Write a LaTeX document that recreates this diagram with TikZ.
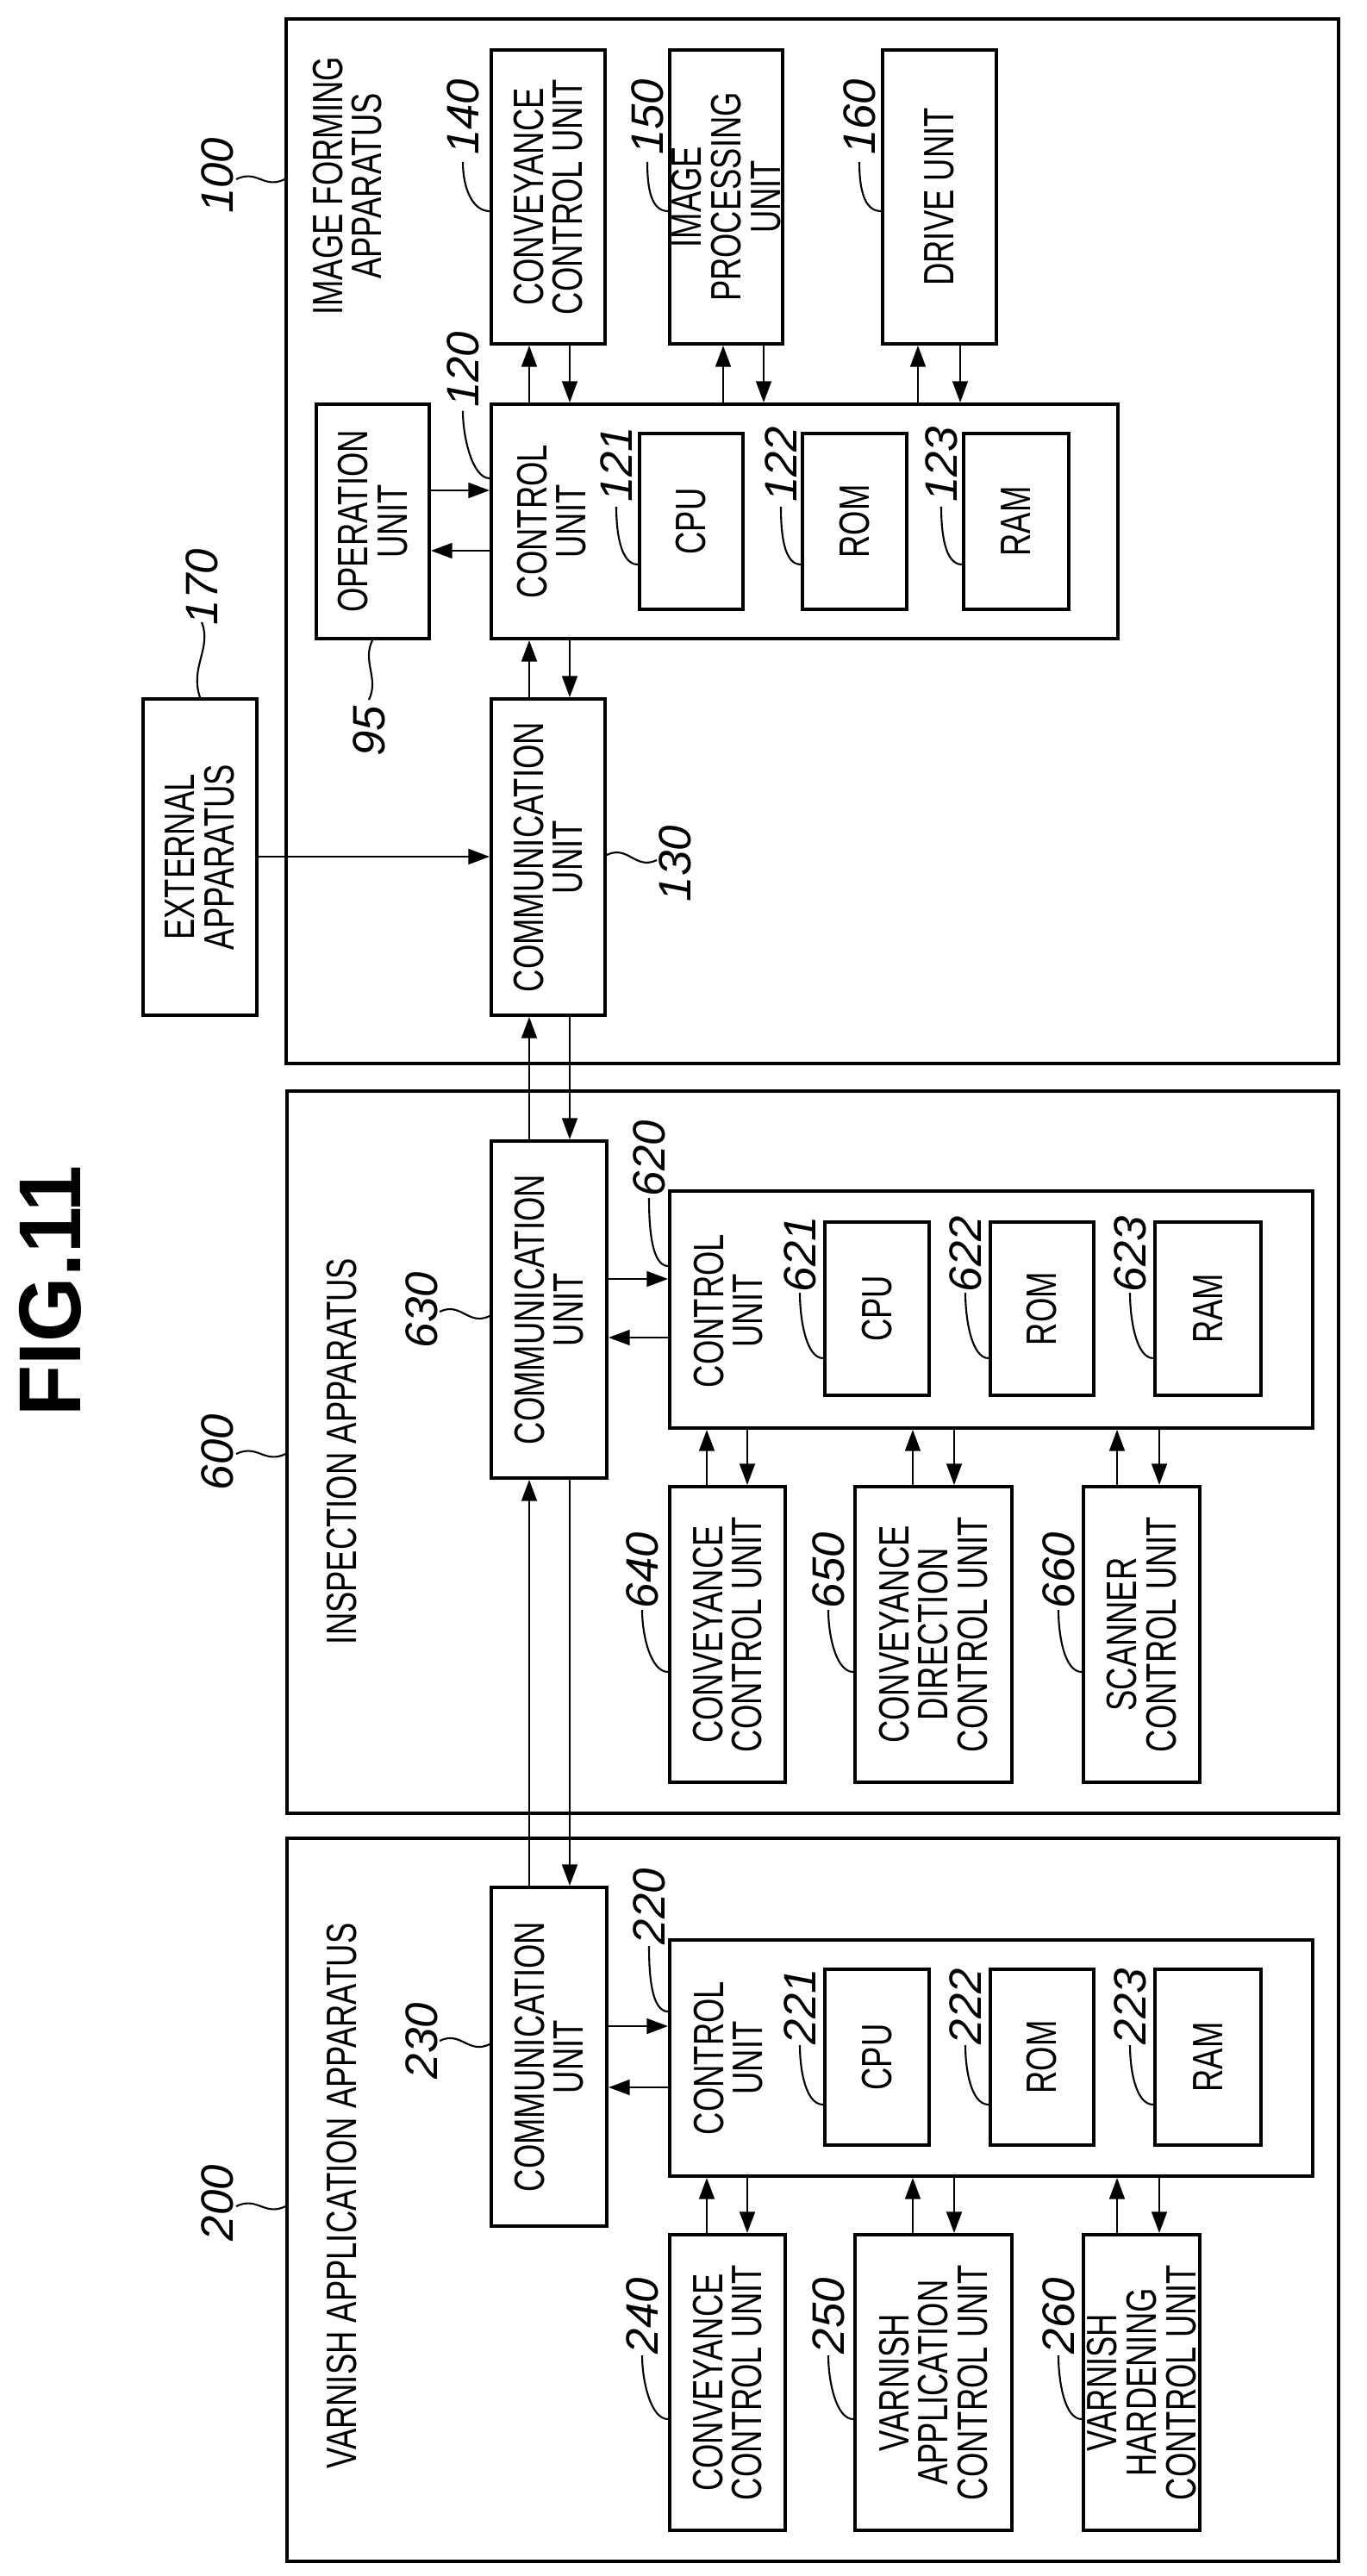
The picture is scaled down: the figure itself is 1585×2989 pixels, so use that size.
\documentclass[tikz,border=0pt]{standalone}
\usepackage{fontspec}
\setmainfont{Liberation Sans}[FakeStretch=0.74]
\newfontfamily\numfont{Liberation Sans}
\newfontfamily\figfont{Liberation Sans}[FakeStretch=0.95]
\usetikzlibrary{arrows.meta}
\begin{document}
\begin{tikzpicture}[x=0.01cm,y=-0.01cm,
  box/.style={draw,line width=1.1pt,inner sep=0pt,rectangle},
  outer/.style={draw,line width=0.9pt,inner sep=0pt,rectangle},
  txt/.style={rotate=90,align=center,inner sep=0pt,font=\fontsize{14}{13}\selectfont},
  lbl/.style={rotate=90,inner sep=0pt,font=\numfont\itshape\fontsize{15}{15}\selectfont},
  arr/.style={line width=0.8pt,-{Triangle[length=7pt,width=5pt]}},
  lead/.style={line width=0.6pt}]
\useasboundingbox (0,0) rectangle (1585,2989);
\newcommand\bx[7][box]{\node[#1,minimum width={(#5-#3)*0.01cm},minimum height={(#6-#4)*0.01cm}] (#2) at ({(#3+#5)/2},{(#4+#6)/2}) {};
  \node[txt] at (#2.center) {#7};}
\newcommand\ld[2]{\draw[lead] #1 .. controls +(0,30) and +(-20,0) .. #2;}
\newcommand\tl[2]{\draw[lead] #1 .. controls +(25,-12) and +(-25,12) .. #2;}

% title
\node[rotate=90,inner sep=0pt,font=\figfont\bfseries\fontsize{29}{29}\selectfont] (fig) at (58,1498) {FIG.11};

% ===== 100 =====
\bx[outer]{o100}{332}{22}{1553}{1234}{}
\node[txt] (t100) at (403,216) {IMAGE FORMING\\APPARATUS};
\node[lbl] (l100) at (252,204) {100};
\coordinate (e100) at (o100.west |- 0,208);
\tl{(274,208)}{(e100)}
\bx{c140}{570}{58}{702}{399}{CONVEYANCE\\CONTROL UNIT}
\bx{c150}{777}{58}{908}{399}{IMAGE\\PROCESSING\\UNIT}
\bx{c160}{1024}{58}{1156}{399}{DRIVE UNIT}
\bx{c95}{367}{469}{498}{741}{OPERATION\\UNIT}
\bx{c120}{570}{469}{1297}{741}{}
\node[txt] (t120) at (640,605) {CONTROL\\UNIT};
\bx{c121}{742}{503}{862}{707}{CPU}
\bx{c122}{931}{503}{1052}{707}{ROM}
\bx{c123}{1118}{503}{1240}{707}{RAM}
\bx{c130}{570}{811}{702}{1178}{COMMUNICATION\\UNIT}
\bx{c170}{166}{811}{298}{1178}{EXTERNAL\\APPARATUS}

\node[lbl] (l140) at (537,136) {140};
\node[lbl] (l150) at (751,136) {150};
\node[lbl] (l160) at (997,136) {160};
\ld{(537,188)}{(c140.west |- 0,245)}
\ld{(751,188)}{(c150.west |- 0,245)}
\ld{(997,188)}{(c160.west |- 0,245)}
\node[lbl] (l120) at (537,429) {120};
\ld{(537,477)}{(c120.west |- 0,555)}
\node[lbl] (l121) at (715,539) {121};
\node[lbl] (l122) at (906,539) {122};
\node[lbl] (l123) at (1092,539) {123};
\ld{(715,588)}{(c121.west |- 0,655)}
\ld{(906,588)}{(c122.west |- 0,655)}
\ld{(1092,588)}{(c123.west |- 0,655)}
\node[lbl] (l95) at (428,848) {95};
\draw[lead] (c95.south -| 432,0) .. controls +(-12,25) and +(12,-25) .. (428,812);
\node[lbl] (l130) at (783,1002) {130};
\tl{(c130.east |- 0,992)}{(762,998)}
\node[lbl] (l170) at (234,681) {170};
\draw[lead] (c170.north -| 232,0) .. controls +(-12,-35) and +(12,30) .. (234,722);

\draw[arr] (c95.east |- 0,569) -- (c120.west |- 0,569);
\draw[arr] (c120.west |- 0,639) -- (c95.east |- 0,639);
\draw[arr] (c120.north -| 614,0) -- (c140.south -| 614,0);
\draw[arr] (c140.south -| 661,0) -- (c120.north -| 661,0);
\draw[arr] (c120.north -| 839,0) -- (c150.south -| 839,0);
\draw[arr] (c150.south -| 886,0) -- (c120.north -| 886,0);
\draw[arr] (c120.north -| 1065,0) -- (c160.south -| 1065,0);
\draw[arr] (c160.south -| 1114,0) -- (c120.north -| 1114,0);
\draw[arr] (c130.north -| 614,0) -- (c120.south -| 614,0);
\draw[arr] (c120.south -| 661,0) -- (c130.north -| 661,0);
\draw[arr] (c170.east |- 0,994) -- (c130.west |- 0,994);

% ===== 600 =====
\bx[outer]{o600}{333}{1266}{1553}{2104}{}
\node[txt] (t600) at (397,1684) {INSPECTION APPARATUS};
\node[lbl] (l600) at (252,1685) {600};
\tl{(274,1687)}{(o600.west |- 0,1687)}
\bx{c630}{570}{1324}{704}{1715}{COMMUNICATION\\UNIT}
\node[lbl] (l630) at (489,1520) {630};
\tl{(510,1522)}{(c630.west |- 0,1527)}
\bx{c620}{777}{1382}{1523}{1657}{}
\node[txt] (t620) at (845,1521) {CONTROL\\UNIT};
\bx{c621}{957}{1418}{1078}{1619}{CPU}
\bx{c622}{1149}{1418}{1269}{1619}{ROM}
\bx{c623}{1340}{1418}{1463}{1619}{RAM}
\node[lbl] (l620) at (753,1344) {620};
\ld{(753,1390)}{(c620.west |- 0,1469)}
\node[lbl] (l621) at (928,1455) {621};
\node[lbl] (l622) at (1120,1455) {622};
\node[lbl] (l623) at (1311,1455) {623};
\ld{(928,1500)}{(c621.west |- 0,1576)}
\ld{(1120,1500)}{(c622.west |- 0,1576)}
\ld{(1311,1500)}{(c623.west |- 0,1576)}
\bx{c640}{777}{1725}{911}{2068}{CONVEYANCE\\CONTROL UNIT}
\bx{c650}{992}{1725}{1174}{2068}{CONVEYANCE\\DIRECTION\\CONTROL UNIT}
\bx{c660}{1257}{1725}{1392}{2068}{SCANNER\\CONTROL UNIT}
\node[lbl] (l640) at (745,1822) {640};
\node[lbl] (l650) at (961,1822) {650};
\node[lbl] (l660) at (1228,1822) {660};
\ld{(745,1868)}{(c640.west |- 0,1940)}
\ld{(961,1868)}{(c650.west |- 0,1940)}
\ld{(1228,1868)}{(c660.west |- 0,1940)}
\draw[arr] (c630.east |- 0,1484) -- (c620.west |- 0,1484);
\draw[arr] (c620.west |- 0,1552) -- (c630.east |- 0,1552);
\draw[arr] (c640.north -| 820,0) -- (c620.south -| 820,0);
\draw[arr] (c620.south -| 867,0) -- (c640.north -| 867,0);
\draw[arr] (c650.north -| 1059,0) -- (c620.south -| 1059,0);
\draw[arr] (c620.south -| 1107,0) -- (c650.north -| 1107,0);
\draw[arr] (c660.north -| 1296,0) -- (c620.south -| 1296,0);
\draw[arr] (c620.south -| 1345,0) -- (c660.north -| 1345,0);
\draw[arr] (c630.north -| 614,0) -- (c130.south -| 614,0);
\draw[arr] (c130.south -| 661,0) -- (c630.north -| 661,0);

% ===== 200 =====
\bx[outer]{o200}{333}{2133}{1553}{2972}{}
\node[txt] (t200) at (397,2548) {VARNISH APPLICATION APPARATUS};
\node[lbl] (l200) at (252,2556) {200};
\tl{(274,2560)}{(o200.west |- 0,2560)}
\bx{c230}{570}{2190}{704}{2583}{COMMUNICATION\\UNIT}
\node[lbl] (l230) at (489,2368) {230};
\tl{(510,2368)}{(c230.west |- 0,2372)}
\bx{c220}{777}{2251}{1523}{2525}{}
\node[txt] (t220) at (845,2388) {CONTROL\\UNIT};
\bx{c221}{957}{2285}{1078}{2489}{CPU}
\bx{c222}{1149}{2285}{1269}{2489}{ROM}
\bx{c223}{1340}{2285}{1463}{2489}{RAM}
\node[lbl] (l220) at (753,2212) {220};
\ld{(753,2258)}{(c220.west |- 0,2334)}
\node[lbl] (l221) at (928,2328) {221};
\node[lbl] (l222) at (1120,2328) {222};
\node[lbl] (l223) at (1311,2328) {223};
\ld{(928,2373)}{(c221.west |- 0,2442)}
\ld{(1120,2373)}{(c222.west |- 0,2442)}
\ld{(1311,2373)}{(c223.west |- 0,2442)}
\bx{c240}{777}{2593}{911}{2936}{CONVEYANCE\\CONTROL UNIT}
\bx{c250}{992}{2593}{1174}{2936}{VARNISH\\APPLICATION\\CONTROL UNIT}
\bx{c260}{1257}{2593}{1392}{2936}{VARNISH\\HARDENING\\CONTROL UNIT}
\node[lbl] (l240) at (745,2687) {240};
\node[lbl] (l250) at (961,2687) {250};
\node[lbl] (l260) at (1228,2687) {260};
\ld{(745,2733)}{(c240.west |- 0,2807)}
\ld{(961,2733)}{(c250.west |- 0,2807)}
\ld{(1228,2733)}{(c260.west |- 0,2807)}
\draw[arr] (c230.east |- 0,2351) -- (c220.west |- 0,2351);
\draw[arr] (c220.west |- 0,2422) -- (c230.east |- 0,2422);
\draw[arr] (c240.north -| 820,0) -- (c220.south -| 820,0);
\draw[arr] (c220.south -| 867,0) -- (c240.north -| 867,0);
\draw[arr] (c250.north -| 1059,0) -- (c220.south -| 1059,0);
\draw[arr] (c220.south -| 1107,0) -- (c250.north -| 1107,0);
\draw[arr] (c260.north -| 1296,0) -- (c220.south -| 1296,0);
\draw[arr] (c220.south -| 1345,0) -- (c260.north -| 1345,0);
\draw[arr] (c230.north -| 614,0) -- (c630.south -| 614,0);
\draw[arr] (c630.south -| 661,0) -- (c230.north -| 661,0);
\end{tikzpicture}
\end{document}
